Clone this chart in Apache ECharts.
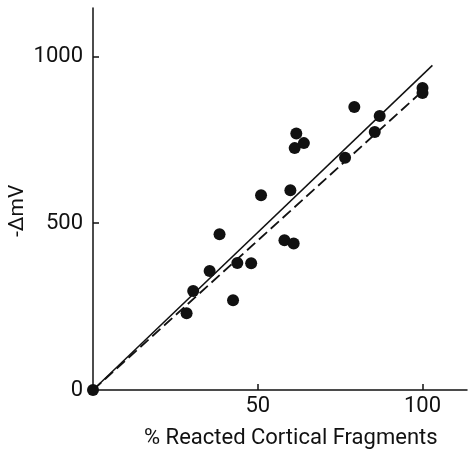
<!DOCTYPE html>
<html>
<head>
<meta charset="utf-8">
<script src="https://cdn.jsdelivr.net/npm/echarts@6/dist/echarts.min.js"></script>
<style>
html,body{margin:0;padding:0;background:#fff;}
#chart{width:469px;height:452px;}
</style>
</head>
<body>
<div id="chart"></div>
<script>
// Data
const pctReacted = [0, 28.4, 30.4, 35.4, 38.4, 42.5, 43.8, 48.0, 51.0, 58.1, 59.9, 60.9, 61.2, 61.7, 64.0, 76.5, 79.3, 85.5, 87.0, 100, 100];
const deltaMV    = [0, 230, 297, 357, 467, 269, 381, 380, 584, 449, 599, 439, 725, 769, 740, 696, 848, 773, 821, 905, 890];
const solidFitX = [0, 103];
const solidFitY = [0, 973];
const dashedFitX = [0, 101];
const dashedFitY = [0, 905];
const xTicks = [50, 100];
const yTicks = [0, 500, 1000];
const xTitle = '% Reacted Cortical Fragments';
const yTitle = '-ΔmV';

const points = pctReacted.map((x, i) => [x, deltaMV[i]]);
const solid = solidFitX.map((x, i) => [x, solidFitY[i]]);
const dashed = dashedFitX.map((x, i) => [x, dashedFitY[i]]);

const ink = '#111';
const font = 'Roboto, "Liberation Sans", sans-serif';

const chart = echarts.init(document.getElementById('chart'), null, {renderer: 'canvas'});
chart.setOption({
  backgroundColor: '#fff',
  animation: false,
  grid: {left: 93, top: 8, right: 2, bottom: 62, containLabel: false},
  xAxis: {
    type: 'value', min: 0, max: 113.5, interval: 50,
    splitLine: {show: false},
    axisLine: {show: true, onZero: false, lineStyle: {color: ink, width: 1.5}},
    axisTick: {show: true, inside: true, length: 6, customValues: xTicks, lineStyle: {color: ink, width: 1.5}},
    axisLabel: {show: true, customValues: xTicks, margin: 5, color: ink, fontFamily: font, fontSize: 22, formatter: v => String(v)}
  },
  yAxis: {
    type: 'value', min: 0, max: 1145, interval: 500,
    splitLine: {show: false},
    axisLine: {show: true, onZero: false, lineStyle: {color: ink, width: 1.5}},
    axisTick: {show: true, inside: true, length: 6, customValues: [500, 1000], lineStyle: {color: ink, width: 1.5}},
    axisLabel: {show: true, customValues: yTicks, margin: 10, color: ink, fontFamily: font, fontSize: 22, formatter: v => String(v)}
  },
  graphic: [
    {type: 'text', left: 144, top: 427, style: {text: xTitle, fill: ink, font: '400 22px ' + font}},
    {type: 'text', x: 7, y: 237, rotation: Math.PI / 2, style: {text: yTitle, fill: ink, font: '400 21px ' + font, textAlign: 'left', textVerticalAlign: 'top'}}
  ],
  series: [
    {type: 'line', data: solid, showSymbol: false, symbol: 'none', lineStyle: {color: ink, width: 1.5}, z: 2},
    {type: 'line', data: dashed, showSymbol: false, symbol: 'none', lineStyle: {color: ink, width: 1.8, type: [11, 5]}, z: 2},
    {type: 'scatter', data: points, symbol: 'circle', symbolSize: 12, itemStyle: {color: ink, opacity: 1}, z: 3}
  ]
});
</script>
</body>
</html>
